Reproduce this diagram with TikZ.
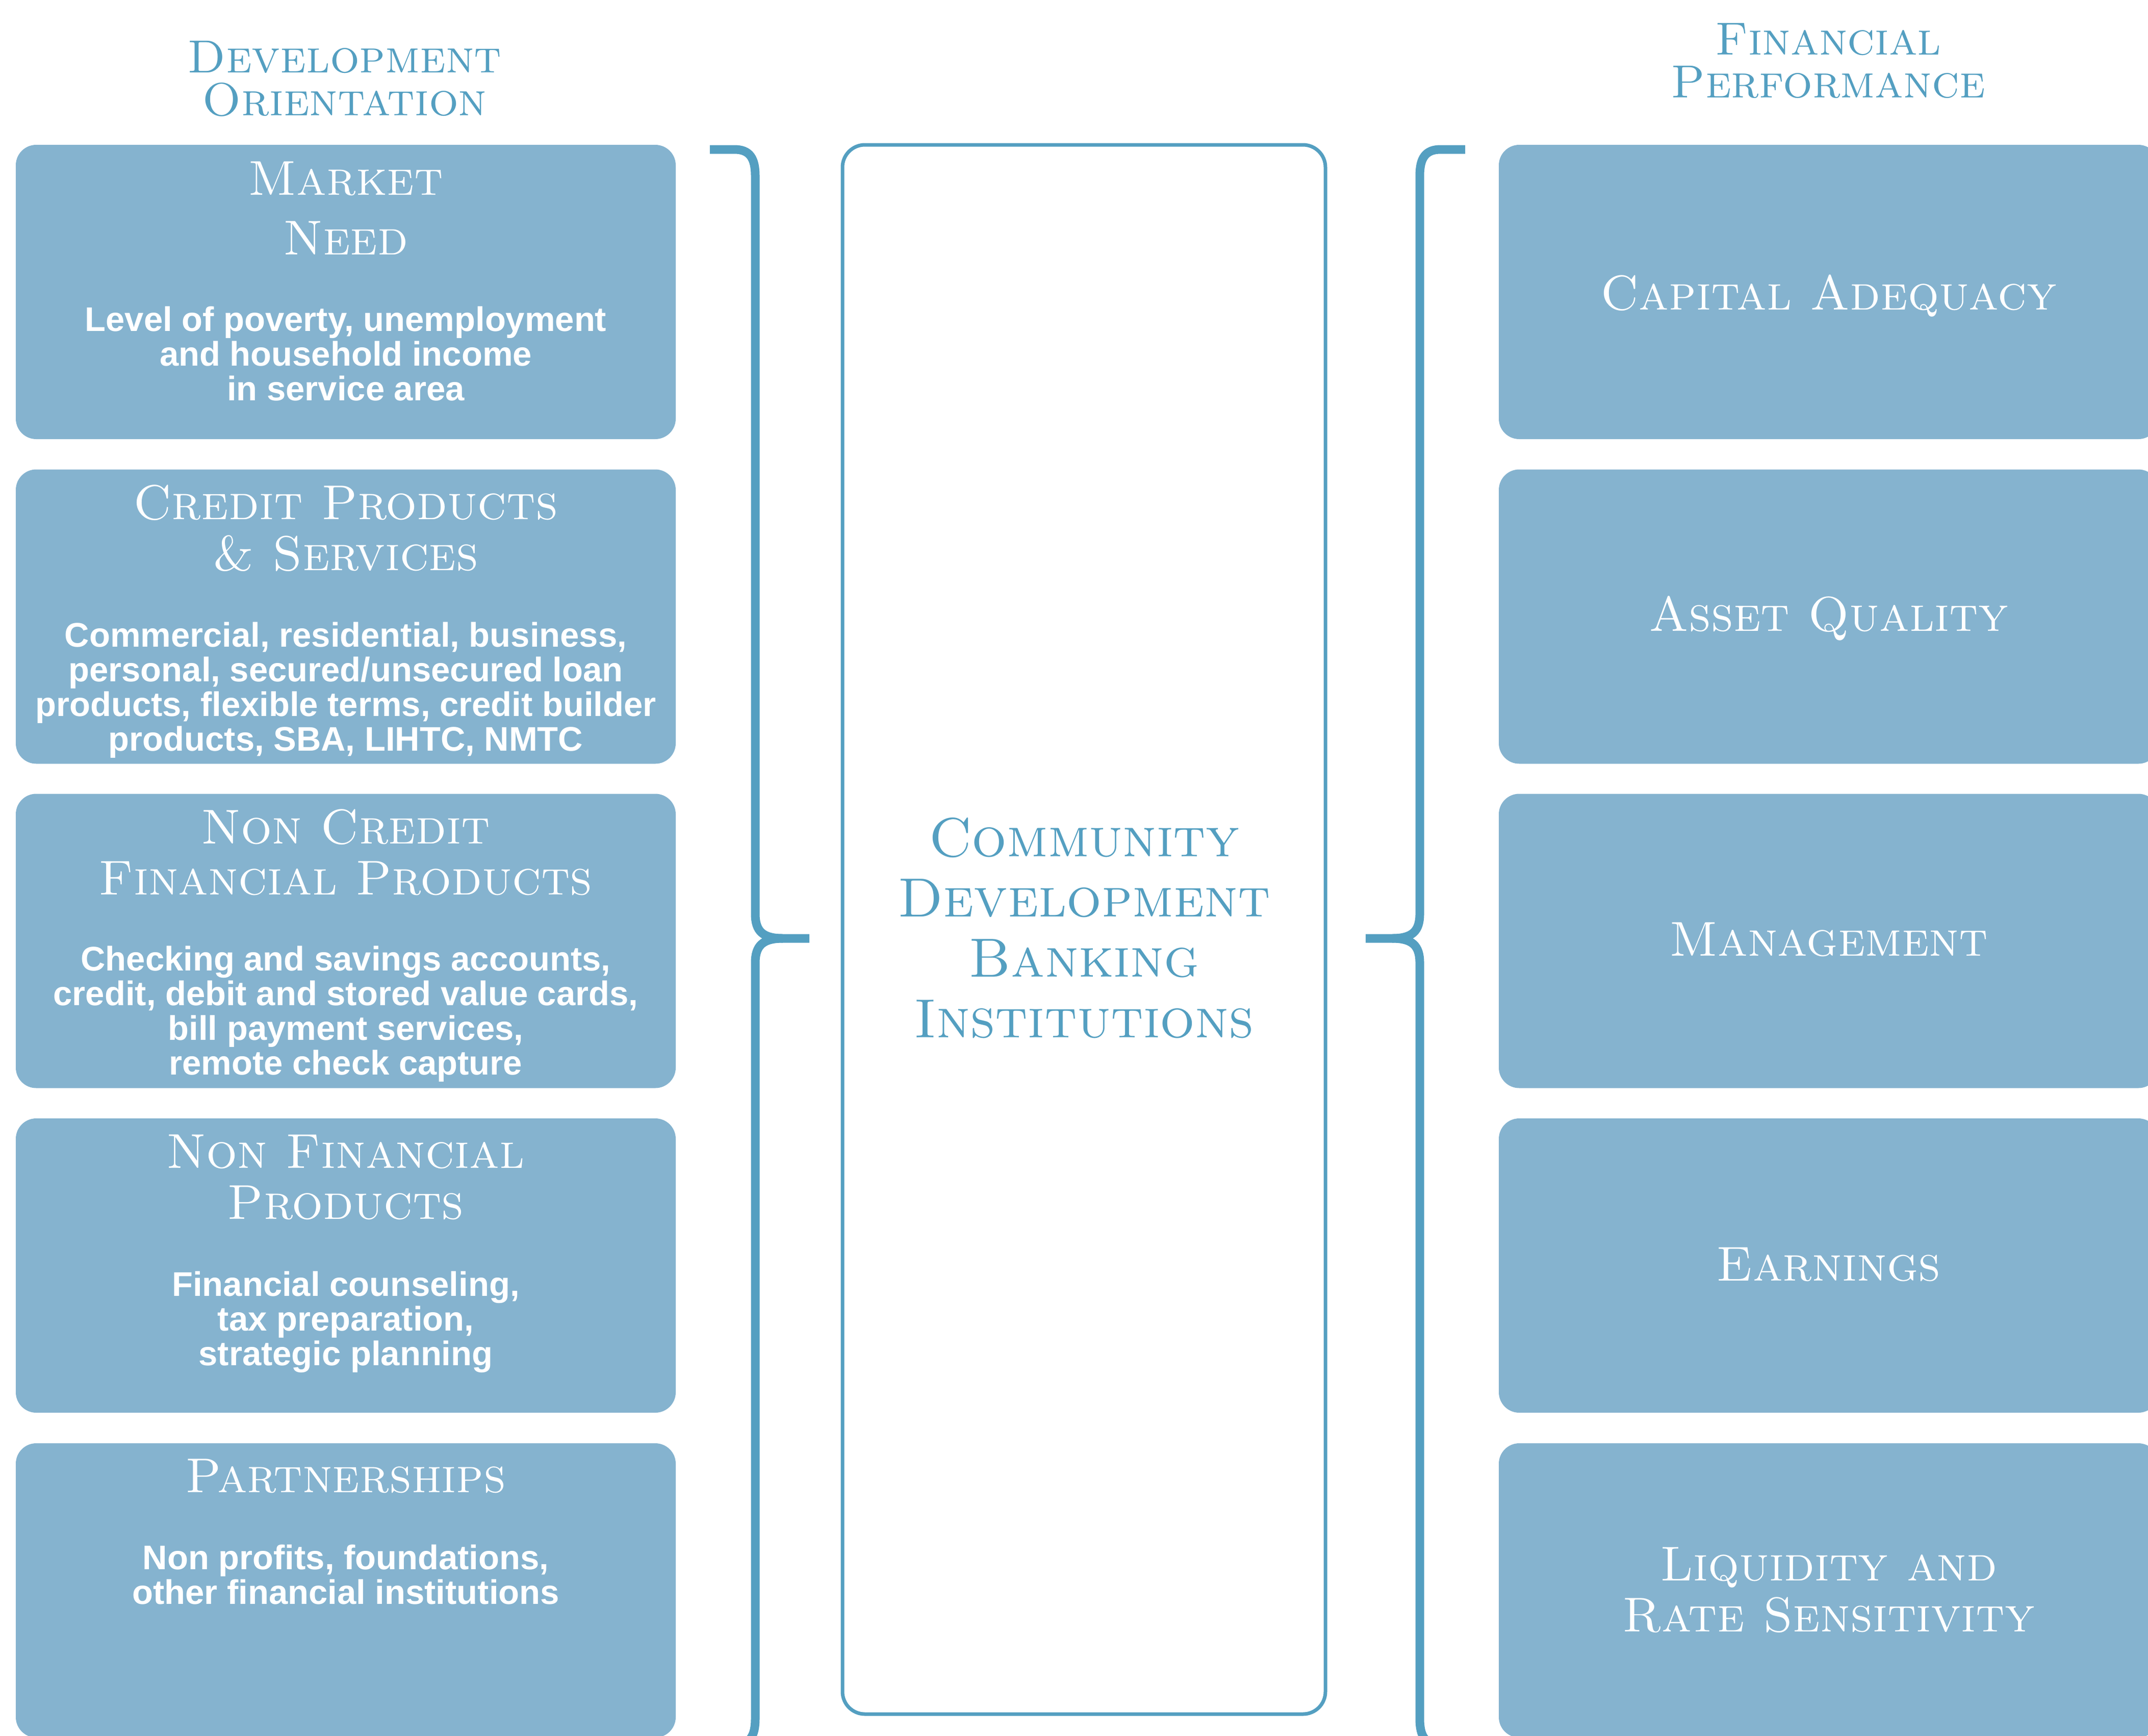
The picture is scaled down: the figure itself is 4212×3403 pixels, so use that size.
\documentclass[tikz,border=0pt]{standalone}
\usepackage{fontspec}
\newfontfamily\sansbody{Liberation Sans}
\DeclareFontFamily{OT1}{mycsc}{}
\DeclareFontShape{OT1}{mycsc}{m}{n}{<-> cmcsc10}{}
\newcommand{\capsf}{\fontencoding{OT1}\fontfamily{mycsc}\fontseries{m}\fontshape{n}}
\definecolor{boxfill}{RGB}{133,179,207}
\definecolor{linecol}{RGB}{84,159,193}
\tikzset{
  card/.style={fill=boxfill, draw=none, rounded corners=40pt, minimum width=1294pt, minimum height=577pt, inner sep=0pt},
  cardhead/.style={text=white, font=\capsf\fontsize{96}{100}\selectfont, align=center, inner sep=0pt, anchor=base},
  cardbody/.style={text=white, font=\sansbody\bfseries\fontsize{67}{68}\selectfont, align=center, inner sep=0pt, anchor=base},
  toptitle/.style={text=linecol, font=\capsf\fontsize{91}{84}\selectfont, align=center, inner sep=0pt, anchor=base},
  brace/.style={draw=linecol, line width=17pt, line cap=butt, line join=round}
}
\begin{document}
\begin{tikzpicture}[x=1pt,y=-1pt]
\useasboundingbox (0,0) rectangle (4212,3403);
\clip (0,0) rectangle (4212,3403);
% titles
\node[toptitle] (tl) at (676,226) {Development\\Orientation};
\node[toptitle] (tr) at (3585,191) {Financial\\Performance};
% left cards
\node[card] (l1) at (678,572.5) {};
\node[card] (l2) at (678,1209) {};
\node[card] (l3) at (678,1845) {};
\node[card] (l4) at (678,2481.5) {};
\node[card] (l5) at (678,3118.5) {};
% right cards
\node[card] (r1) at (3586,572.5) {};
\node[card] (r2) at (3586,1209) {};
\node[card] (r3) at (3586,1845) {};
\node[card] (r4) at (3586,2481.5) {};
\node[card] (r5) at (3586,3118.5) {};
% left card texts (anchor base = last line)
\node[cardhead, font=\capsf\fontsize{96}{117}\selectfont] (l1h) at (678,499) {Market\\Need};
\node[cardbody] (l1b) at (678,785) {Level of poverty, unemployment\\and household income\\in service area};
\node[cardhead] (l2h) at (678,1118) {Credit Products\\\& Services};
\node[cardbody] (l2b) at (678,1472) {Commercial, residential, business,\\personal, secured/unsecured loan\\products, flexible terms, credit builder\\products, SBA, LIHTC, NMTC};
\node[cardhead] (l3h) at (678,1754) {Non Credit\\Financial Products};
\node[cardbody] (l3b) at (678,2107) {Checking and savings accounts,\\credit, debit and stored value cards,\\bill payment services,\\remote check capture};
\node[cardhead] (l4h) at (678,2390) {Non Financial\\Products};
\node[cardbody] (l4b) at (678,2677) {Financial counseling,\\tax preparation,\\strategic planning};
\node[cardhead] (l5h) at (678,2926) {Partnerships};
\node[cardbody] (l5b) at (678,3145) {Non profits, foundations,\\other financial institutions};
% right card texts
\node[cardhead] (r1t) at (3586,607) {Capital Adequacy};
\node[cardhead] (r2t) at (3586,1237) {Asset Quality};
\node[cardhead] (r3t) at (3586,1874) {Management};
\node[cardhead] (r4t) at (3586,2511) {Earnings};
\node[cardhead] (r5t) at (3586,3199) {Liquidity and\\Rate Sensitivity};
% center box
\node[draw=linecol, line width=7pt, rounded corners=44pt, minimum width=947pt, minimum height=3077pt, inner sep=0pt] (cdbi) at (2125.5,1822.5) {};
\node[text=linecol, font=\capsf\fontsize{108}{118.3}\selectfont, align=center, inner sep=0pt, anchor=base] (cdbit) at (2126,2034) {Community\\Development\\Banking\\Institutions};
% braces
\draw[brace] (1392,293) -- (1440,293) .. controls (1470,293) and (1481,310) .. (1481,345)
  -- (1481,1792) .. controls (1481,1826) and (1496,1840) .. (1535,1840) -- (1587,1840);
\draw[brace] (1535,1840) .. controls (1496,1840) and (1481,1854) .. (1481,1888)
  -- (1481,3370) .. controls (1481,3405) and (1470,3421) .. (1440,3421) -- (1392,3421);
\draw[brace] (2873,293) -- (2825,293) .. controls (2795,293) and (2784,310) .. (2784,345)
  -- (2784,1792) .. controls (2784,1826) and (2769,1840) .. (2730,1840) -- (2678,1840);
\draw[brace] (2730,1840) .. controls (2769,1840) and (2784,1854) .. (2784,1888)
  -- (2784,3370) .. controls (2784,3405) and (2795,3421) .. (2825,3421) -- (2873,3421);
\end{tikzpicture}
\end{document}
